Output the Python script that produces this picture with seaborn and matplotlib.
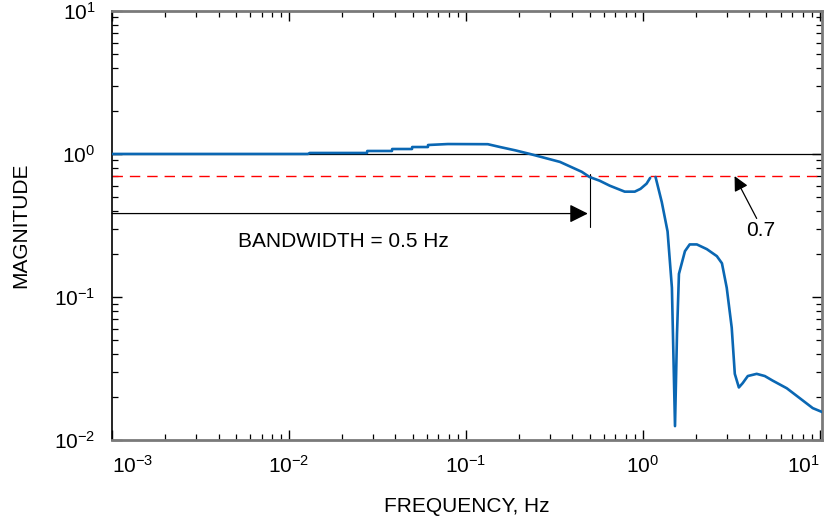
import matplotlib
matplotlib.use("Agg")
import matplotlib.pyplot as plt
import numpy as np
import pandas as pd
import seaborn as sns

# Measured response, first segment (up to the small gap near 1.1 Hz)
freq_a = [0.001, 0.0128, 0.0131, 0.0276, 0.0277, 0.0382, 0.0383, 0.0496, 0.0497,
          0.061, 0.0611, 0.079, 0.133, 0.156, 0.19, 0.23, 0.34, 0.452, 0.50, 0.57,
          0.65, 0.79, 0.90, 0.97, 1.05, 1.10]
mag_a = [1.0, 1.0, 1.016, 1.016, 1.049, 1.049, 1.083, 1.083, 1.118,
         1.118, 1.155, 1.173, 1.17, 1.118, 1.06, 1.0, 0.88, 0.75, 0.69, 0.65,
         0.60, 0.545, 0.545, 0.57, 0.62, 0.68]

# Second segment (steep drop, notch, resonance bump and tail)
freq_b = [1.18, 1.28, 1.38, 1.46, 1.52, 1.56, 1.60, 1.73, 1.84, 2.02, 2.30,
          2.62, 2.80, 2.98, 3.18, 3.31, 3.49, 3.67, 3.92, 4.40, 4.89, 5.42,
          6.51, 7.71, 9.13, 10.3]
mag_b = [0.69, 0.46, 0.287, 0.116, 0.0125, 0.055, 0.145, 0.209, 0.233, 0.233,
         0.216, 0.193, 0.172, 0.116, 0.061, 0.029, 0.0233, 0.025, 0.028, 0.029,
         0.028, 0.026, 0.023, 0.0196, 0.0167, 0.0157]

UNITY = 1.0
HALF_POWER = 0.7
BANDWIDTH_HZ = 0.5
ARROW_Y = 0.383
ARROW_TIP_X = 0.489
TICK_SPAN = (0.31, 0.73)
LABEL_07_HEAD = (3.3, 0.70)
LABEL_07_TAIL = (4.4, 0.354)

BLUE = "#0a67b3"
SPINE_GRAY = "#7a7a7a"

sns.set_theme(style="ticks")
plt.rcParams["font.family"] = ["Liberation Sans", "DejaVu Sans"]
plt.rcParams.update({
    "mathtext.fontset": "custom",
    "mathtext.rm": "Liberation Sans",
    "mathtext.it": "Liberation Sans",
    "mathtext.bf": "Liberation Sans",
    "mathtext.default": "regular",
    "text.color": "black",
    "axes.labelcolor": "black",
    "xtick.color": "black",
    "ytick.color": "black",
    "xtick.labelcolor": "black",
    "ytick.labelcolor": "black",
})

fig = plt.figure(figsize=(8.25, 5.21), dpi=100)
ax = fig.add_axes([0.1358, 0.1555, 0.8606, 0.8235])

df_a = pd.DataFrame({"freq": freq_a, "mag": mag_a})
df_b = pd.DataFrame({"freq": freq_b, "mag": mag_b})

ax.axhline(UNITY, color="black", lw=0.9, zorder=1)
ax.axhline(HALF_POWER, color="#ff0000", lw=1.0, ls=(0, (7.5, 5)), zorder=1)

sns.lineplot(data=df_a, x="freq", y="mag", color=BLUE, lw=1.9, ax=ax, zorder=3)
sns.lineplot(data=df_b, x="freq", y="mag", color=BLUE, lw=1.9, ax=ax, zorder=3)

ax.set_xscale("log")
ax.set_yscale("log")
ax.set_xlim(1e-3, 10.3)
ax.set_ylim(1e-2, 10)

# bandwidth marker
ax.plot([BANDWIDTH_HZ, BANDWIDTH_HZ], list(TICK_SPAN), color="black", lw=0.8, zorder=2)
ax.annotate("", xy=(ARROW_TIP_X, ARROW_Y), xytext=(1e-3, ARROW_Y),
            arrowprops=dict(arrowstyle="-|>", color="black", lw=0.9,
                            mutation_scale=28, shrinkA=0, shrinkB=0))
ax.text(0.00515, 0.245, "BANDWIDTH = 0.5 Hz", fontsize=15, ha="left", va="center")

ax.annotate("", xy=LABEL_07_HEAD, xytext=LABEL_07_TAIL,
            arrowprops=dict(arrowstyle="-|>", color="black", lw=0.9,
                            mutation_scale=22, shrinkA=0, shrinkB=0))
ax.text(3.82, 0.292, "0.7", fontsize=15, ha="left", va="center")

ax.set_xlabel("FREQUENCY, Hz", fontsize=15, labelpad=14)
ax.set_ylabel("MAGNITUDE", fontsize=15, labelpad=17)

ax.tick_params(which="both", direction="in", top=True, right=True,
               labelsize=15, color="black", labelcolor="black")
ax.tick_params(which="major", length=7, width=1.0)
ax.tick_params(which="minor", length=4, width=0.9)
ax.tick_params(axis="x", which="major", pad=11)
ax.tick_params(axis="y", which="major", pad=12)

for side in ["top", "right", "bottom"]:
    ax.spines[side].set_color(SPINE_GRAY)
    ax.spines[side].set_linewidth(2.0)
ax.spines["left"].set_color("black")
ax.spines["left"].set_linewidth(1.2)
ax.grid(False)

# keep the end labels inside the figure, as in the reference
fig.canvas.draw()
xlabels = ax.get_xticklabels()
for lab, loc in zip(xlabels, ax.get_xticks()):
    if np.isclose(loc, 1e-3):
        lab.set_horizontalalignment("left")
    elif np.isclose(loc, 10):
        lab.set_horizontalalignment("right")

fig.savefig("out.png", dpi=100)
